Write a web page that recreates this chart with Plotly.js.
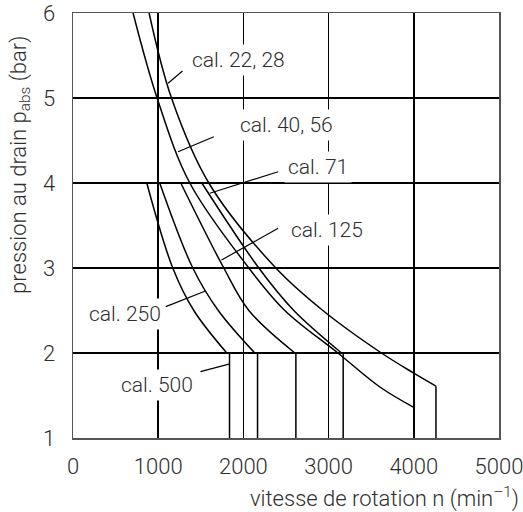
<!DOCTYPE html>
<html>
<head>
<meta charset="utf-8">
<script src="https://cdn.plot.ly/plotly-3.0.1.min.js"></script>
<style>html,body{margin:0;padding:0;background:#fff;}#chart{width:523px;height:512px;}</style>
</head>
<body>
<div id="chart"></div>
<script>
// Curves: speed n (min^-1) vs. max. case pressure p_abs (bar)
const cal2228_n = [893, 1156, 1594, 2381, 2933, 3620, 4005, 4260];
const cal2228_p = [6, 5, 4, 3, 2.5, 2, 1.76, 1.61];
const cal2228_tail_n = [4260, 4260];
const cal2228_tail_p = [1.61, 1];

const cal4056_n = [705, 987, 1371, 2064, 2486, 3109, 3602, 4000];
const cal4056_p = [6, 5, 4, 3, 2.5, 2, 1.6, 1.36];
const cal4056_tail_n = [4000, 4000];
const cal4056_tail_p = [1.36, 1];

const cal71_n = [1512, 2181, 2592, 3152];
const cal71_p = [4, 3, 2.5, 2];
const cal71_tail_n = [3152, 3171, 3171];
const cal71_tail_p = [2, 2, 1];

const cal125_n = [1265, 1770, 2064, 2604];
const cal125_p = [4, 3, 2.5, 2];
const cal125_tail_n = [2604, 2616, 2616];
const cal125_tail_p = [2, 2, 1];

const cal250_n = [1018, 1406, 1705, 2134];
const cal250_p = [4, 3, 2.5, 2];
const cal250_tail_n = [2134, 2166, 2166];
const cal250_tail_p = [2, 2, 1];

const cal500_n = [866, 1171, 1418, 1805];
const cal500_p = [4, 3, 2.5, 2];
const cal500_tail_n = [1805, 1837, 1837];
const cal500_tail_p = [2, 2, 1];

// Labels
const labelTexts = ["cal. 22, 28", "cal. 40, 56", "cal. 71", "cal. 125", "cal. 250", "cal. 500"];
const labelX = [1946, 2510, 2874, 2980, 607, 983];
const labelY = [5.447, 4.682, 4.188, 3.447, 2.459, 1.624];
// leader lines: start on curve, end near label
const leadX0 = [1116, 1233, 1606, 1743, 1555, 1830];
const leadY0 = [5.173, 4.368, 3.879, 3.094, 2.729, 1.87];
const leadX1 = [1285, 1653, 2408, 2408, 1089, 1496];
const leadY1 = [5.318, 4.545, 4.133, 3.467, 2.545, 1.78];

const xTicks = [0, 1000, 2000, 3000, 4000, 5000];
const yTicks = [1, 2, 3, 4, 5, 6];

const FONT = "Roboto, 'Open Sans', sans-serif";
const TXT = "#2e2e2e";

const curves = [
  [cal2228_n, cal2228_p, cal2228_tail_n, cal2228_tail_p],
  [cal4056_n, cal4056_p, cal4056_tail_n, cal4056_tail_p],
  [cal71_n, cal71_p, cal71_tail_n, cal71_tail_p],
  [cal125_n, cal125_p, cal125_tail_n, cal125_tail_p],
  [cal250_n, cal250_p, cal250_tail_n, cal250_tail_p],
  [cal500_n, cal500_p, cal500_tail_n, cal500_tail_p]
];

const traces = [];
curves.forEach(c => {
  traces.push({x: c[0], y: c[1], mode: 'lines', line: {color: '#000', width: 1.5, shape: 'spline', smoothing: 1}, hoverinfo: 'skip', showlegend: false});
  traces.push({x: c[2], y: c[3], mode: 'lines', line: {color: '#000', width: 1.5}, hoverinfo: 'skip', showlegend: false});
});

const annotations = labelTexts.map((t, i) => ({
  x: labelX[i], y: labelY[i], xref: 'x', yref: 'y', text: t, showarrow: false,
  font: {family: FONT, size: 21, color: TXT, weight: 300}, bgcolor: '#fff', borderpad: 3
}));
annotations.push({
  xref: 'paper', yref: 'paper', x: 1.052, y: -0.139, xanchor: 'right', yanchor: 'middle',
  text: 'vitesse de rotation n (min<sup>–1</sup>)', showarrow: false,
  font: {family: FONT, size: 22, color: TXT, weight: 300}
});
annotations.push({
  xref: 'paper', yref: 'paper', x: -0.125, y: 0.642, xanchor: 'center', yanchor: 'middle',
  textangle: -90, text: 'pression au drain p<sub>abs</sub> (bar)', showarrow: false,
  font: {family: FONT, size: 22, color: TXT, weight: 300}
});

const shapes = leadX0.map((x0, i) => ({
  type: 'line', xref: 'x', yref: 'y', x0: x0, y0: leadY0[i], x1: leadX1[i], y1: leadY1[i],
  line: {color: '#000', width: 1.2}, layer: 'above'
}));

const layout = {
  width: 523, height: 512,
  margin: {l: 73, r: 24, t: 13, b: 74},
  paper_bgcolor: '#fff', plot_bgcolor: '#fff',
  showlegend: false,
  font: {family: FONT, size: 21, color: TXT},
  xaxis: {
    range: [0, 5000], tickvals: xTicks, ticktext: xTicks.map(String),
    showgrid: true, gridcolor: '#000', gridwidth: 1.6, zeroline: false,
    showline: true, mirror: true, linecolor: '#555', linewidth: 1.5,
    ticks: '', ticklabelstandoff: 8, ticklabeloverflow: 'allow',
    tickfont: {family: FONT, size: 22, color: TXT, weight: 300}, fixedrange: true
  },
  yaxis: {
    range: [1, 6], tickvals: yTicks, ticktext: yTicks.map(String),
    showgrid: true, gridcolor: '#000', gridwidth: 1.6, zeroline: false,
    showline: true, mirror: true, linecolor: '#555', linewidth: 1.5,
    ticks: '', ticklabelstandoff: 12, ticklabeloverflow: 'allow',
    tickfont: {family: FONT, size: 22, color: TXT, weight: 300}, fixedrange: true
  },
  annotations: annotations,
  shapes: shapes
};

Plotly.newPlot('chart', traces, layout, {staticPlot: true, displayModeBar: false});
</script>
</body>
</html>
